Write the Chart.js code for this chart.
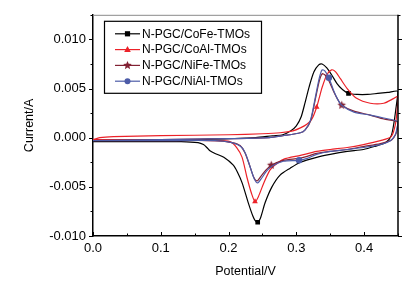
<!DOCTYPE html>
<html>
<head>
<meta charset="utf-8">
<script src="https://cdn.jsdelivr.net/npm/chart.js@4.4.1/dist/chart.umd.min.js"></script>
<style>
  html, body { margin: 0; padding: 0; background: #fff; }
  canvas { display: block; }
</style>
</head>
<body>
<canvas id="cvChart" width="410" height="282"></canvas>
<script>
// series names (legend order)
const seriesNames = ["N-PGC/CoFe-TMOs", "N-PGC/CoAl-TMOs", "N-PGC/NiFe-TMOs", "N-PGC/NiAl-TMOs"];

// tick values
const xTicks = [0.0, 0.1, 0.2, 0.3, 0.4];
const yTicks = [-0.010, -0.005, 0.000, 0.005, 0.010];

// CoFe: forward scan 0 -> 0.45 V, then reverse 0.45 -> 0 V
const coFeV = [0.000, 0.050, 0.100, 0.150, 0.200, 0.240, 0.265, 0.280, 0.292, 0.300, 0.307, 0.313, 0.319, 0.326, 0.333, 0.338, 0.345, 0.352, 0.360, 0.368, 0.377, 0.390, 0.405, 0.420, 0.435, 0.450,
  0.447, 0.444, 0.440, 0.432, 0.415, 0.399, 0.375, 0.350, 0.330, 0.306, 0.291, 0.276, 0.264, 0.254, 0.247, 0.243, 0.239, 0.236, 0.229, 0.220, 0.213, 0.207, 0.193, 0.180, 0.172, 0.168, 0.163, 0.155, 0.130, 0.080, 0.000];
const coFeI = [-0.0003, -0.0003, -0.0002, -0.0002, -0.0001, 0.0000, 0.0002, 0.0003, 0.0007, 0.0012, 0.0021, 0.0036, 0.0052, 0.0067, 0.0074, 0.0075, 0.0071, 0.0064, 0.0055, 0.0049, 0.0045, 0.0044, 0.0044, 0.0045, 0.0046, 0.0047,
  0.0030, 0.0015, 0.0002, -0.0005, -0.0009, -0.0012, -0.0014, -0.0017, -0.0020, -0.0025, -0.0031, -0.0038, -0.0050, -0.0066, -0.0082, -0.0086, -0.0084, -0.0080, -0.0066, -0.0046, -0.0035, -0.0028, -0.0020, -0.0016, -0.0013, -0.0010, -0.0007, -0.0005, -0.0004, -0.0004, -0.0004];
const coFeMarks = [20, 41];

// CoAl
const coAlV = [0.000, 0.010, 0.030, 0.100, 0.200, 0.250, 0.276, 0.295, 0.306, 0.316, 0.323, 0.330, 0.334, 0.338, 0.345, 0.352, 0.358, 0.365, 0.375, 0.389, 0.409, 0.429, 0.444, 0.450,
  0.449, 0.446, 0.440, 0.424, 0.399, 0.375, 0.350, 0.330, 0.306, 0.281, 0.268, 0.261, 0.252, 0.244, 0.239, 0.234, 0.227, 0.220, 0.212, 0.202, 0.180, 0.100, 0.000];
const coAlI = [-0.0002, 0.0000, 0.0001, 0.0002, 0.0003, 0.0004, 0.0005, 0.0007, 0.0010, 0.0014, 0.0019, 0.0031, 0.0041, 0.0051, 0.0064, 0.0069, 0.0067, 0.0060, 0.0050, 0.0040, 0.0035, 0.0035, 0.0040, 0.0042,
  0.0030, 0.0013, 0.0001, -0.0003, -0.0007, -0.0010, -0.0012, -0.0014, -0.0018, -0.0022, -0.0028, -0.0033, -0.0046, -0.0060, -0.0065, -0.0057, -0.0040, -0.0020, -0.0010, -0.0004, -0.0003, -0.0002, -0.0002];
const coAlMarks = [11, 38];

// NiFe
const niFeV = [0.000, 0.100, 0.200, 0.260, 0.280, 0.306, 0.313, 0.321, 0.328, 0.334, 0.338, 0.342, 0.348, 0.355, 0.361, 0.367, 0.385, 0.409, 0.429, 0.450,
  0.449, 0.447, 0.441, 0.424, 0.399, 0.375, 0.350, 0.330, 0.316, 0.304, 0.281, 0.263, 0.255, 0.248, 0.242, 0.237, 0.231, 0.224, 0.217, 0.205, 0.180, 0.100, 0.000];
const niFeI = [-0.0003, -0.0002, -0.0001, 0.0000, 0.0002, 0.0005, 0.0008, 0.0017, 0.0039, 0.0058, 0.0065, 0.0064, 0.0058, 0.0047, 0.0039, 0.0033, 0.0027, 0.0023, 0.0019, 0.0016,
  0.0010, 0.0004, -0.0002, -0.0006, -0.0009, -0.0012, -0.0014, -0.0016, -0.0019, -0.0021, -0.0023, -0.0028, -0.0033, -0.0039, -0.0044, -0.0040, -0.0028, -0.0015, -0.0008, -0.0005, -0.0003, -0.0003, -0.0003];
const niFeMarks = [15, 31];

// NiAl
const niAlV = [0.000, 0.100, 0.200, 0.260, 0.280, 0.306, 0.313, 0.321, 0.328, 0.334, 0.338, 0.342, 0.348, 0.355, 0.361, 0.367, 0.385, 0.409, 0.429, 0.450,
  0.448, 0.446, 0.439, 0.424, 0.399, 0.375, 0.350, 0.330, 0.316, 0.304, 0.281, 0.264, 0.256, 0.249, 0.243, 0.238, 0.232, 0.225, 0.218, 0.205, 0.180, 0.100, 0.000];
const niAlI = [-0.0003, -0.0002, -0.0001, 0.0000, 0.0002, 0.0005, 0.0008, 0.0018, 0.0041, 0.0061, 0.0069, 0.0068, 0.0061, 0.0048, 0.0039, 0.0033, 0.0026, 0.0023, 0.0020, 0.0016,
  0.0008, 0.0003, -0.0003, -0.0007, -0.0010, -0.0012, -0.0014, -0.0017, -0.0021, -0.0023, -0.0024, -0.0029, -0.0034, -0.0041, -0.0046, -0.0042, -0.0030, -0.0016, -0.0009, -0.0005, -0.0003, -0.0003, -0.0003];
const niAlMarks = [12, 29];

const colors = ["#000000", "#ec2229", "#822133", "#4d5ca8"];

function toPoints(vs, is) {
  return vs.map((v, k) => ({ x: v, y: is[k] }));
}

// filled five-point star for the NiFe markers
function starImage(color, r) {
  const c = document.createElement("canvas");
  const s = Math.ceil(r * 2) + 2;
  c.width = s; c.height = s;
  const g = c.getContext("2d");
  g.fillStyle = color;
  g.beginPath();
  for (let k = 0; k < 10; k++) {
    const rr = k % 2 ? r * 0.45 : r;
    const ang = -Math.PI / 2 + k * Math.PI / 5;
    g.lineTo(s / 2 + rr * Math.cos(ang), s / 2 + rr * Math.sin(ang));
  }
  g.closePath();
  g.fill();
  return c;
}
const starImg = starImage(colors[2], 4.5);
const pointStyles = ["rect", "triangle", starImg, "circle"];

function makeSet(i, vs, is, marks, order) {
  return {
    label: seriesNames[i],
    data: toPoints(vs, is),
    showLine: true,
    borderColor: colors[i],
    borderWidth: 1.2,
    tension: 0.25,
    pointStyle: pointStyles[i],
    pointRadius: (ctx) => (marks.includes(ctx.dataIndex) ? 3.3 : 0),
    pointHoverRadius: 0,
    pointBackgroundColor: colors[i],
    pointBorderColor: colors[i],
    pointBorderWidth: 0,
    fill: false,
    order: order,
  };
}

const fmt = (v) => (Math.abs(v) < 1e-9 ? 0 : v);

// frame (top/right) and tick marks
const frameTicks = {
  id: "frameTicks",
  afterDraw(chart) {
    const { ctx, chartArea: a, scales: { x, y } } = chart;
    ctx.save();
    ctx.strokeStyle = "#8a8a8a";
    ctx.lineWidth = 1;
    ctx.beginPath();
    ctx.moveTo(a.left, a.top + 0.5);
    ctx.lineTo(a.right, a.top + 0.5);
    ctx.stroke();

    ctx.strokeStyle = "#000";
    ctx.lineWidth = 1.5;
    ctx.beginPath();
    ctx.moveTo(a.right, a.top);
    ctx.lineTo(a.right, a.bottom);
    ctx.stroke();

    ctx.lineWidth = 1;
    // y: majors + halfway minors, outward on both sides
    const yStep = (yTicks[1] - yTicks[0]) / 2;
    const ny = Math.round((y.max - y.min) / yStep);
    for (let k = 0; k <= ny; k++) {
      const py = Math.round(y.getPixelForValue(y.min + k * yStep)) + 0.5;
      const len = k % 2 === 0 ? 4 : 2.5;
      ctx.beginPath();
      ctx.moveTo(a.left - len, py); ctx.lineTo(a.left, py);
      ctx.moveTo(a.right, py); ctx.lineTo(a.right + len, py);
      ctx.stroke();
    }
    // x: majors + minors, pointing inward
    const xStep = (xTicks[1] - xTicks[0]) / 2;
    const nx = Math.round((x.max - x.min) / xStep);
    for (let k = 0; k <= nx; k++) {
      const px = Math.round(x.getPixelForValue(x.min + k * xStep)) + 0.5;
      const len = k % 2 === 0 ? 4 : 2.5;
      ctx.beginPath();
      ctx.moveTo(px, a.bottom); ctx.lineTo(px, a.bottom - len);
      ctx.stroke();
    }
    ctx.restore();
  },
};

// legend box inside the plot
const innerLegend = {
  id: "innerLegend",
  afterDraw(chart) {
    const { ctx, chartArea: a } = chart;
    const bx = a.left + 11, by = a.top + 6, bw = 157, bh = 72;
    ctx.save();
    ctx.fillStyle = "#fff";
    ctx.fillRect(bx, by, bw, bh);
    ctx.strokeStyle = "#000";
    ctx.lineWidth = 1.2;
    ctx.strokeRect(bx + 0.5, by + 0.5, bw, bh);
    ctx.font = '12px "Liberation Sans", Arial, sans-serif';
    ctx.textBaseline = "middle";
    seriesNames.forEach((name, i) => {
      const yy = by + 13 + i * 15.8;
      const x0 = bx + 11, x1 = bx + 36, xm = (x0 + x1) / 2;
      ctx.strokeStyle = colors[i];
      ctx.lineWidth = 1.2;
      ctx.beginPath(); ctx.moveTo(x0, yy); ctx.lineTo(x1, yy); ctx.stroke();
      ctx.fillStyle = colors[i];
      if (i === 0) {
        ctx.fillRect(xm - 2.6, yy - 2.6, 5.2, 5.2);
      } else if (i === 1) {
        ctx.beginPath();
        ctx.moveTo(xm, yy - 3.5); ctx.lineTo(xm + 3.3, yy + 2.4); ctx.lineTo(xm - 3.3, yy + 2.4);
        ctx.closePath(); ctx.fill();
      } else if (i === 2) {
        ctx.drawImage(starImg, xm - starImg.width / 2, yy - starImg.height / 2);
      } else {
        ctx.beginPath(); ctx.arc(xm, yy, 3, 0, Math.PI * 2); ctx.fill();
      }
      ctx.fillStyle = "#000";
      ctx.fillText(name, x1 + 2, yy + 0.5);
    });
    ctx.restore();
  },
};

new Chart(document.getElementById("cvChart").getContext("2d"), {
  type: "scatter",
  data: {
    datasets: [
      makeSet(0, coFeV, coFeI, coFeMarks, 4),
      makeSet(1, coAlV, coAlI, coAlMarks, 3),
      makeSet(2, niFeV, niFeI, niFeMarks, 2),
      makeSet(3, niAlV, niAlI, niAlMarks, 1),
    ],
  },
  options: {
    responsive: false,
    animation: false,
    events: [],
    layout: { padding: { top: 9, right: 12, left: 0, bottom: 0 } },
    plugins: { legend: { display: false }, tooltip: { enabled: false } },
    scales: {
      x: {
        type: "linear",
        min: 0,
        max: 0.45,
        afterBuildTicks: (scale) => { scale.ticks = xTicks.map((v) => ({ value: v })); },
        afterFit: (scale) => { scale.height = 46; },
        grid: { display: false, drawTicks: false, tickLength: 0 },
        border: { display: true, color: "#000", width: 1.5 },
        ticks: {
          padding: 5,
          color: "#000",
          maxRotation: 0,
          font: { family: '"Liberation Sans", Arial, sans-serif', size: 13 },
          callback: (v) => fmt(v).toFixed(1),
        },
        title: {
          display: true,
          text: "Potential/V",
          color: "#000",
          padding: { top: 0, bottom: 3 },
          font: { family: '"Liberation Sans", Arial, sans-serif', size: 12.5 },
        },
      },
      y: {
        type: "linear",
        min: -0.010,
        max: 0.0125,
        afterBuildTicks: (scale) => { scale.ticks = yTicks.map((v) => ({ value: v })); },
        afterFit: (scale) => { scale.width = 93; },
        grid: { display: false, drawTicks: false, tickLength: 0 },
        border: { display: true, color: "#000", width: 1.5 },
        ticks: {
          padding: 7,
          color: "#000",
          font: { family: '"Liberation Sans", Arial, sans-serif', size: 13 },
          callback: (v) => fmt(v).toFixed(3),
        },
        title: {
          display: true,
          text: "Current/A",
          color: "#000",
          padding: { top: 22, bottom: 0 },
          font: { family: '"Liberation Sans", Arial, sans-serif', size: 12.5 },
        },
      },
    },
  },
  plugins: [frameTicks, innerLegend],
});
</script>
</body>
</html>
